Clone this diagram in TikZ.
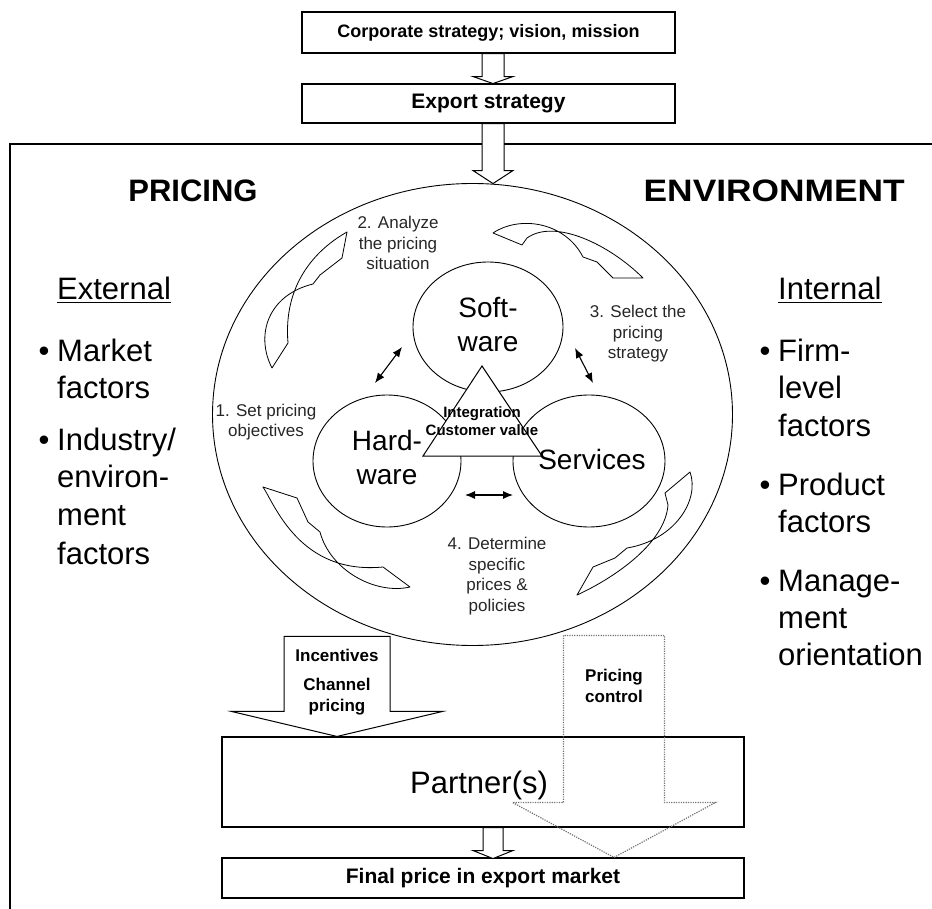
\documentclass[tikz,border=0pt]{standalone}
\usepackage{fontspec}
\setmainfont{Liberation Sans}
\usetikzlibrary{arrows.meta,shapes.geometric,calc}
\tikzset{
 frameline/.style={line width=1.1pt},
 box/.style={draw, line width=1.1pt, inner sep=0pt, fill=white},
 blk/.style={draw, line width=1pt, fill=white, line join=miter},
 dotblk/.style={draw=black!55, line width=1.2pt, dash pattern=on 1.2pt off 1.2pt},
 circ/.style={draw, ellipse, line width=0.9pt, inner sep=0pt},
 curvarr/.style={draw, line width=0.8pt, fill=white, line join=round},
 dbl/.style={{Latex[length=10pt,width=8pt]}-{Latex[length=10pt,width=8pt]}, line width=1.1pt},
 steplbl/.style={font=\fontsize{17}{20.5}\selectfont, align=center, inner sep=0pt, text=black!85},
 boldlbl/.style={font=\bfseries\fontsize{17}{21}\selectfont, align=center, inner sep=0pt},
 big/.style={font=\fontsize{31}{37}\selectfont, inner sep=0pt},
 mid/.style={font=\fontsize{28}{34}\selectfont, align=center, inner sep=0pt},
 head/.style={font=\bfseries\fontsize{31}{36}\selectfont, inner sep=0pt},
}
\newcommand\blkarrow[7]{\draw[#1] (#2-#6,#3) -- (#2-#6,#4) -- (#2-#7,#4) -- (#2,#5) -- (#2+#7,#4) -- (#2+#6,#4) -- (#2+#6,#3) -- cycle;}
\begin{document}
\begin{tikzpicture}[x=1pt,y=-1pt]
\useasboundingbox (0,0) rectangle (932,909);
% frame
\draw[frameline] (10,909) -- (10,144) -- (932,144);
% top boxes
\node[box, minimum width=373pt, minimum height=41pt, font=\bfseries\fontsize{18}{21}\selectfont] (corp) at (488.5,32.5) {Corporate strategy; vision, mission};
\node[box, minimum width=373pt, minimum height=39pt, font=\bfseries\fontsize{21}{25}\selectfont] (exp) at (488.5,103.5) {Export strategy};
% big circle
\node[circ, minimum width=520pt, minimum height=462pt] (bigc) at (472.5,414.5) {};
% block arrows at top
\blkarrow{blk, shift={($(corp.south)+(4.5,0)$)}}{0}{0}{23}{30}{11}{20}
\blkarrow{blk, shift={($(exp.south)+(4.5,0)$)}}{0}{0}{47}{60}{11}{20}
% headings
\node[head, anchor=base] (pricing) at (193,202) {PRICING};
\node[head, anchor=base east] (envir) at (905,202) {\scalebox{1.14}[1]{ENVIRONMENT}};
% left list
\node[big, anchor=base west] (ext) at (57,300) {\underline{External}};
\node[big, anchor=base] (b1) at (44,362) {•};
\node[big, anchor=base west] (l1) at (57,362) {Market};
\node[big, anchor=base west] (l2) at (57,399) {factors};
\node[big, anchor=base] (b2) at (44,450) {•};
\node[big, anchor=base west] (l3) at (57,450) {Industry/};
\node[big, anchor=base west] (l4) at (57,487) {environ-};
\node[big, anchor=base west] (l5) at (57,525) {ment};
\node[big, anchor=base west] (l6) at (57,564) {factors};
% right list
\node[big, anchor=base west] (int) at (778,300) {\underline{Internal}};
\node[big, anchor=base] (b3) at (765,362) {•};
\node[big, anchor=base west] (r1) at (778,362) {Firm-};
\node[big, anchor=base west] (r2) at (778,399) {level};
\node[big, anchor=base west] (r3) at (778,436) {factors};
\node[big, anchor=base] (b4) at (765,495) {•};
\node[big, anchor=base west] (r4) at (778,495) {Product};
\node[big, anchor=base west] (r5) at (778,532) {factors};
\node[big, anchor=base] (b5) at (765,591) {•};
\node[big, anchor=base west] (r6) at (778,591) {Manage-};
\node[big, anchor=base west] (r7) at (778,628) {ment};
\node[big, anchor=base west] (r8) at (778,665) {orientation};
% curved arrows
\path[curvarr] (272,368) .. controls (255,335) and (268,295) .. (313,284) -- (320,275) -- (342,258) -- (347,232) .. controls (315,250) and (283,285) .. (288,343) -- cycle;
\path[curvarr] (493,233) .. controls (520,215) and (565,222) .. (583,257) -- (597,262) -- (613,278) -- (643,278) .. controls (610,245) and (555,218) .. (527,238) -- (522,245) -- cycle;
\path[curvarr] (690,472) .. controls (700,500) and (675,540) .. (627,548) -- (615,558) -- (593,567) -- (577,595) .. controls (610,580) and (665,545) .. (668,505) -- (665,493) -- cycle;
\path[curvarr] (410,587) .. controls (375,595) and (330,570) .. (320,532) -- (308,522) -- (297,498) -- (263,487) .. controls (275,505) and (300,575) .. (383,567) -- cycle;
% step labels
\node[steplbl] (s1) at (266,422) {1. Set pricing\\objectives};
\node[steplbl] (s2) at (398,243) {2. Analyze\\the pricing\\situation};
\node[steplbl] (s3) at (638,334) {3. Select the\\pricing\\strategy};
\node[steplbl] (s4) at (497,576) {4. Determine\\specific\\prices \&\\policies};
% inner circles
\node[circ, minimum width=150pt, minimum height=130pt] (soft) at (488,327) {};
\node[circ, minimum width=148pt, minimum height=132pt] (hard) at (387,461) {};
\node[circ, minimum width=152pt, minimum height=132pt] (serv) at (589,461) {};
% triangle
\coordinate (ta) at (482,366);
\coordinate (tl) at (423,456);
\coordinate (tr) at (542,456);
\draw[line width=1pt, fill=white] (ta) -- (tl) -- (tr) -- cycle;
\node[mid] (softt) at (488,325) {Soft-\\ware};
\node[mid] (hardt) at (387,457) {Hard-\\ware};
\node[mid] (servt) at (592,459) {Services};
\node[font=\bfseries\fontsize{15}{18}\selectfont, align=center, inner sep=0pt] (integ) at (482,421) {Integration\\Customer value};
% double arrows
\coordinate (d1a) at (375,383); \coordinate (d1b) at (402,347);
\coordinate (d2a) at (575,348); \coordinate (d2b) at (593,383);
\coordinate (d3a) at (465,495); \coordinate (d3b) at (513,495);
\draw[dbl] (d1a) -- (d1b);
\draw[dbl] (d2a) -- (d2b);
\draw[dbl] (d3a) -- (d3b);
% bottom boxes
\node[box, fill=none, minimum width=522pt, minimum height=90pt] (partner) at (483,782) {};
\node[box, fill=none, minimum width=522pt, minimum height=40pt, font=\bfseries\fontsize{21}{25}\selectfont] (final) at (483,878) {Final price in export market};
\node[big] (partt) at (479,785) {Partner(s)};
% arrows to partner
\blkarrow{blk, shift={(partner.north)}}{-146}{-100}{-25}{0}{53}{105.5}
\node[boldlbl] (inc) at (337,655) {Incentives};
\node[boldlbl] (chp) at (337,697) {Channel\\pricing};
\blkarrow{dotblk, shift={(final.north)}}{131}{-222}{-55}{0}{50.5}{101.5}
\node[boldlbl] (pc) at (614,686) {Pricing\\control};
\blkarrow{blk, shift={($(partner.south)+(10,0)$)}}{0}{0}{23}{31}{10}{20}
\end{tikzpicture}
\end{document}
